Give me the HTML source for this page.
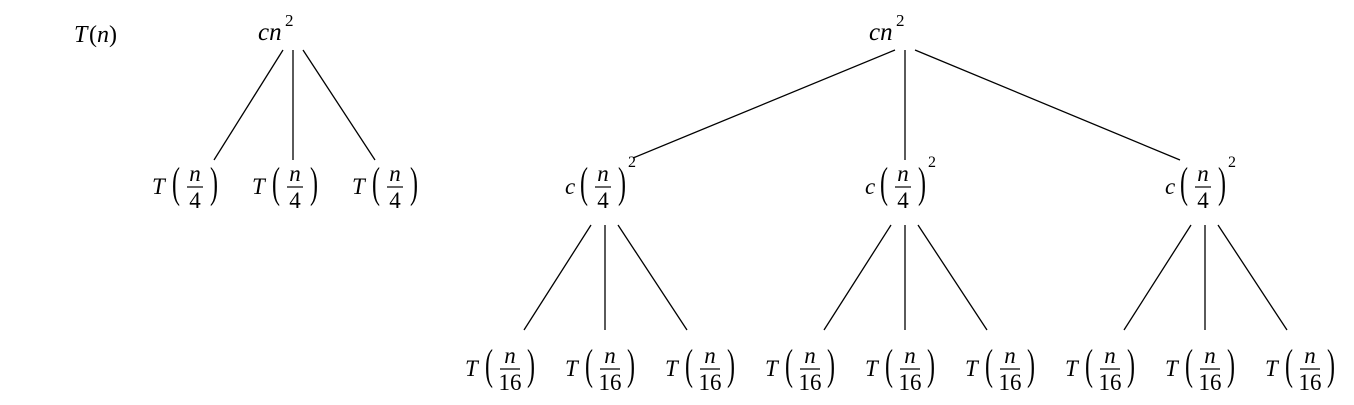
<!DOCTYPE html>
<html><head><meta charset="utf-8">
<style>
html,body{margin:0;padding:0;background:#fff;}
svg{display:block;}
text{font-family:"Liberation Serif",serif;fill:#000;}
.it{font-style:italic;}
</style></head>
<body>
<svg id="tree" width="1354" height="405" viewBox="0 0 1354 405" xmlns="http://www.w3.org/2000/svg">
<g id="edges" stroke="#000" stroke-width="1.3" fill="none"></g>
<g id="nodes"></g>
</svg>
<script>
const NS='http://www.w3.org/2000/svg';
const leftLeafX=[152,252,352];
const midX=[567,867,1167];
const leafOffsets=[-102,-2,98];
const edges=document.getElementById('edges');
const nodes=document.getElementById('nodes');
function t(parent,x,y,str,size,cls,anchor){
  const e=document.createElementNS(NS,'text');
  e.setAttribute('x',x);e.setAttribute('y',y);
  e.setAttribute('font-size',size);
  if(cls)e.setAttribute('class',cls);
  if(anchor)e.setAttribute('text-anchor',anchor);
  e.textContent=str;parent.appendChild(e);return e;
}
function paren(g,x,barY,ch){
  const e=t(g,0,5.6,ch,24);
  e.setAttribute('transform','translate('+x+','+barY+') scale(1,1.8)');
}
function line(x1,y1,x2,y2){
  const l=document.createElementNS(NS,'line');
  l.setAttribute('x1',x1);l.setAttribute('y1',y1);l.setAttribute('x2',x2);l.setAttribute('y2',y2);
  
  
  edges.appendChild(l);
}
function grp(name){
  const g=document.createElementNS(NS,'g');
  
  
  nodes.appendChild(g);return g;
}
function frac(g,px,barY,den){
  const w=den.length>1?20:16;
  paren(g,px,barY,'(');
  const cx=px+15+w/2;
  t(g,cx,barY-6,'n',23,'it','middle');
  const b=document.createElementNS(NS,'line');
  b.setAttribute('x1',px+15);b.setAttribute('x2',px+15+w);
  b.setAttribute('y1',barY);b.setAttribute('y2',barY);
  b.setAttribute('stroke','#000');b.setAttribute('stroke-width','1.2');
  g.appendChild(b);
  t(g,cx,barY+21,den,23,null,'middle');
  paren(g,px+w+22,barY,')');
  return px+w+22+8;
}
function leafT(x0,barY,den){
  const g=grp('leaf-node');
  t(g,x0,barY+7,'T',23,'it');
  frac(g,x0+20,barY,den);
}
function cn2(x,name){
  const g=grp(name);
  t(g,x,40,'cn',25,'it');
  t(g,x+27,26,'2',17);
}
// T(n)
const tn=grp('t-of-n-label');
t(tn,74,42,'T',24,'it');t(tn,89,42,'(',24);t(tn,97,42,'n',24,'it');t(tn,109,42,')',24);
// left tree
cn2(258,'left-root-cn2');
line(283,50,214,160);line(293,50,293,160);line(303,50,375,160);
leftLeafX.forEach(x=>leafT(x,187,'4'));
// right tree
cn2(869,'right-root-cn2');
line(895,50,633,158);line(905,50,905,160);line(915,50,1180,160);
midX.forEach(x=>{
  const g=grp('mid-node');
  t(g,x-2,194,'c',23,'it');
  const end=frac(g,x+13,187,'4');
  t(g,end+2,167,'2',16);
  line(x+24,225,x-43,330);line(x+38,225,x+38,330);line(x+51,225,x+120,330);
  leafOffsets.forEach(o=>leafT(x+o,369,'16'));
});
</script>
</body></html>
